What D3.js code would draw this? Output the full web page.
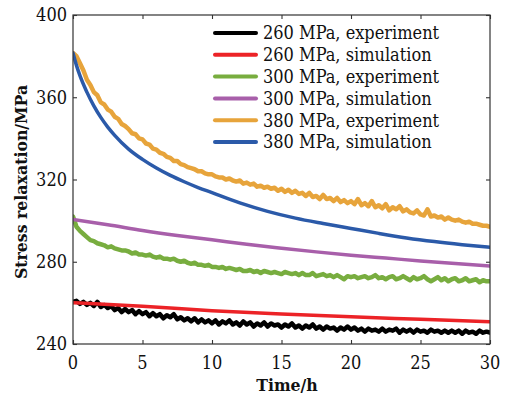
<!DOCTYPE html>
<html>
<head>
<meta charset="utf-8">
<script src="https://cdn.jsdelivr.net/npm/d3@7"></script>
<style>
  html, body { margin: 0; padding: 0; background: #fff; }
  svg text { font-family: "DejaVu Serif Condensed", "DejaVu Serif", serif; font-stretch: condensed; }
  .tick-label { font-size: 18px; fill: #111; }
  .legend text { font-size: 18px; fill: #111; }
  .title { font-size: 17.5px; font-weight: bold; fill: #111; }
</style>
</head>
<body>
<script>
'use strict'

// experiment curves are sampled every 0.25 h from 0 to 30 h
const expStep = 0.25

const exp380 = [
  381.5, 380, 376.5, 373, 368.5, 366, 362.5, 361, 357.5, 356.5,
  354, 353, 350.5, 349.5, 347, 346, 344.5, 342.5, 342, 340,
  339.5, 337.5, 337, 335, 334.5, 333, 332.5, 331, 330.5, 329,
  329, 327.5, 327, 326, 325.5, 325, 324, 324, 323, 322.5,
  322.5, 321.5, 321, 321, 320, 320.5, 319.5, 319, 319.5, 318,
  318.5, 317.5, 318, 316.5, 317, 316, 316.5, 315.5, 316, 314.5,
  315.5, 314, 315, 313.5, 314.5, 313, 313.5, 312, 313.5, 311.5,
  312, 310.5, 312.5, 310.5, 311, 309.5, 311, 309, 310, 308.5,
  309.5, 308, 310.5, 307.5, 308.5, 307, 309.5, 306.5, 307.5, 306,
  308, 305, 306.5, 305.5, 307, 304.5, 305.5, 304, 303.5, 305,
  303, 302.5, 305.5, 302, 302.5, 301.5, 302, 300.5, 301.5, 300.5,
  300, 300.5, 299.5, 299, 299.5, 298.5, 298.5, 298, 297.5, 297.5,
  297
]

const exp300 = [
  302, 297, 295, 293.5, 292, 290.5, 290, 289, 288.5, 288,
  287, 287.5, 286.5, 286, 285.5, 285.5, 285, 284, 284.5, 283.5,
  283.5, 283, 283.5, 282.5, 282, 282.5, 281.5, 281.5, 281, 281.5,
  280.5, 280, 280.5, 279.5, 279, 279.5, 278.5, 278.5, 278, 278.5,
  277.5, 277.5, 277, 277.5, 276.5, 277, 276.5, 276, 276.5, 275.5,
  275.5, 276, 275, 275.5, 274.5, 275.5, 275, 274.5, 275, 274.5,
  274, 275, 274.5, 274, 274.5, 273.5, 274.5, 273.5, 273.5, 274.5,
  273, 273.5, 274, 273, 273.5, 272.5, 273.5, 272.5, 271.5, 273,
  272.5, 273, 272, 272.5, 273, 272, 272.5, 273.5, 272, 272.5,
  271.5, 272.5, 273, 271.5, 272, 273, 272, 271, 272.5, 271.5,
  272, 273, 271.5, 270.5, 271.5, 272.5, 271, 272, 270.5, 271.5,
  272, 270.5, 271, 272, 270.5, 271, 271.5, 270, 271, 270.5,
  270.5
]

const exp260 = [
  260.5, 261, 259.5, 260.5, 259, 260, 258.5, 260.5, 258, 259,
  257.5, 258.5, 256.5, 257.5, 255.5, 257, 255.5, 256.5, 254.5, 256,
  254.5, 255.5, 253.5, 255, 253.5, 254.5, 252.5, 254, 253, 254.5,
  252, 253, 251.5, 252.5, 251, 252.5, 250.5, 252, 250.5, 251.5,
  250, 251.5, 249.5, 251, 250, 251.5, 249.5, 250.5, 249, 251,
  249.5, 250.5, 248.5, 250, 249, 250.5, 248.5, 250, 249, 249.5,
  248, 249.5, 248.5, 250, 248, 249, 247.5, 249, 248, 249.5,
  247.5, 248.5, 247, 248.5, 247.5, 248, 246.5, 248, 247, 248.5,
  247, 248, 246.5, 247.5, 246, 247.5, 246.5, 247, 246, 247.5,
  246, 247, 246.5, 247.5, 245.5, 247, 246, 247, 245.5, 247,
  246, 246.5, 245.5, 247, 246, 246.5, 245.5, 246.5, 245.5, 246.5,
  245.5, 246.5, 245, 246.5, 245.5, 246, 245, 246.5, 245.5, 246,
  245.5
]

// simulation curves: [time (h), stress (MPa)]
const sim380 = [
  [0, 381.5], [0.25, 375.5], [0.5, 370.5], [1, 362.5], [1.5, 355.8], [2, 350.2],
  [2.5, 345.5], [3, 341.5], [4, 334.8], [5, 329.8], [6, 325.6], [7, 322],
  [8, 318.9], [9, 316.1], [10, 313.6], [12, 308.6], [14, 304.5], [16, 301.2],
  [18, 298.6], [20, 296.2], [22, 293.8], [24, 291.6], [26, 289.8], [28, 288.3], [30, 287]
]
const sim300 = [
  [0, 300.5], [2.5, 298], [5, 295.2], [7.5, 292.8], [10, 290.7], [12.5, 288.5],
  [15, 286.6], [17.5, 284.8], [20, 283.2], [22.5, 281.8], [25, 280.4],
  [27.5, 279.1], [30, 277.9]
]
const sim260 = [
  [0, 260.1], [5, 258.3], [10, 256.2], [15, 254.6], [20, 253.2], [25, 252], [30, 250.8]
]

const xTicks = [0, 5, 10, 15, 20, 25, 30]
const yTicks = [240, 280, 320, 360, 400]

const seriesNames = [
  '260 MPa, experiment', '260 MPa, simulation',
  '300 MPa, experiment', '300 MPa, simulation',
  '380 MPa, experiment', '380 MPa, simulation'
]
const seriesColors = ['#000000', '#ec2327', '#78ad3f', '#a85faa', '#e7a43b', '#2b5aa9']

;(function () {
  const width = 506
  const height = 398
  const box = { left: 73, right: 490, top: 15, bottom: 344 }

  const svg = d3.select('body').append('svg')
    .attr('width', width)
    .attr('height', height)

  const scaleX = d3.scaleLinear().domain([0, 30]).range([box.left, box.right])
  const scaleY = d3.scaleLinear().domain([240, 400]).range([box.bottom, box.top])

  const toPoints = function (values) {
    return values.map(function (v, i) { return [i * expStep, v] })
  }

  const rough = d3.line()
    .x(function (d) { return scaleX(d[0]) })
    .y(function (d) { return scaleY(d[1]) })
  const smooth = d3.line()
    .curve(d3.curveMonotoneX)
    .x(function (d) { return scaleX(d[0]) })
    .y(function (d) { return scaleY(d[1]) })

  const clip = svg.append('clipPath').attr('id', 'panel')
  clip.append('rect')
    .attr('x', box.left).attr('y', box.top)
    .attr('width', box.right - box.left).attr('height', box.bottom - box.top)

  const panel = svg.append('g').attr('clip-path', 'url(#panel)')

  const layers = [
    { d: rough(toPoints(exp260)), c: seriesColors[0], w: 4.5 },
    { d: rough(toPoints(exp300)), c: seriesColors[2], w: 4.5 },
    { d: rough(toPoints(exp380)), c: seriesColors[4], w: 4.5 },
    { d: smooth(sim260), c: seriesColors[1], w: 3.5 },
    { d: smooth(sim300), c: seriesColors[3], w: 3.5 },
    { d: smooth(sim380), c: seriesColors[5], w: 3.5 }
  ]
  panel.selectAll('path')
    .data(layers)
    .enter()
    .append('path')
    .attr('d', function (d) { return d.d })
    .attr('fill', 'none')
    .attr('stroke', function (d) { return d.c })
    .attr('stroke-width', function (d) { return d.w })
    .attr('stroke-linejoin', 'round')
    .attr('stroke-linecap', 'round')

  // frame
  svg.append('rect')
    .attr('x', box.left).attr('y', box.top)
    .attr('width', box.right - box.left).attr('height', box.bottom - box.top)
    .attr('fill', 'none')
    .attr('stroke', '#333')
    .attr('stroke-width', 1.2)

  // inward ticks on all four sides
  const tickLen = 4
  const axisB = d3.axisBottom(scaleX).tickValues(xTicks).tickSize(-tickLen).tickFormat('')
  const axisT = d3.axisTop(scaleX).tickValues(xTicks).tickSize(-tickLen).tickFormat('')
  const axisL = d3.axisLeft(scaleY).tickValues(yTicks).tickSize(-tickLen).tickFormat('')
  const axisR = d3.axisRight(scaleY).tickValues(yTicks).tickSize(-tickLen).tickFormat('')
  const axes = [
    [axisB, 'translate(0,' + box.bottom + ')'],
    [axisT, 'translate(0,' + box.top + ')'],
    [axisL, 'translate(' + box.left + ',0)'],
    [axisR, 'translate(' + box.right + ',0)']
  ]
  axes.forEach(function (a) {
    const g = svg.append('g').attr('transform', a[1]).call(a[0])
    g.select('.domain').remove()
    g.selectAll('line').attr('stroke', '#333').attr('stroke-width', 1.1)
  })

  svg.append('g').selectAll('text')
    .data(xTicks)
    .enter()
    .append('text')
    .attr('class', 'tick-label')
    .attr('x', function (d) { return scaleX(d) })
    .attr('y', box.bottom + 25)
    .attr('text-anchor', 'middle')
    .text(function (d) { return d })

  svg.append('g').selectAll('text')
    .data(yTicks)
    .enter()
    .append('text')
    .attr('class', 'tick-label')
    .attr('x', box.left - 6)
    .attr('y', function (d) { return scaleY(d) })
    .attr('dy', '0.36em')
    .attr('text-anchor', 'end')
    .text(function (d) { return d })

  svg.append('text')
    .attr('class', 'title')
    .attr('x', 287)
    .attr('y', 391)
    .attr('text-anchor', 'middle')
    .text('Time/h')
  svg.append('text')
    .attr('class', 'title')
    .attr('text-anchor', 'middle')
    .attr('transform', 'translate(27,182) rotate(-90)')
    .text('Stress relaxation/MPa')

  // legend
  const legend = svg.append('g').attr('class', 'legend')
  const rows = legend.selectAll('g')
    .data(seriesNames)
    .enter()
    .append('g')
    .attr('transform', function (d, i) { return 'translate(0,' + (33 + i * 21.8) + ')' })
  rows.append('line')
    .attr('x1', 215).attr('x2', 256)
    .attr('stroke', function (d, i) { return seriesColors[i] })
    .attr('stroke-width', 4)
    .attr('stroke-linecap', 'round')
  rows.append('text')
    .attr('x', 263)
    .attr('dy', '0.36em')
    .text(function (d) { return d })
})()
</script>
</body>
</html>
